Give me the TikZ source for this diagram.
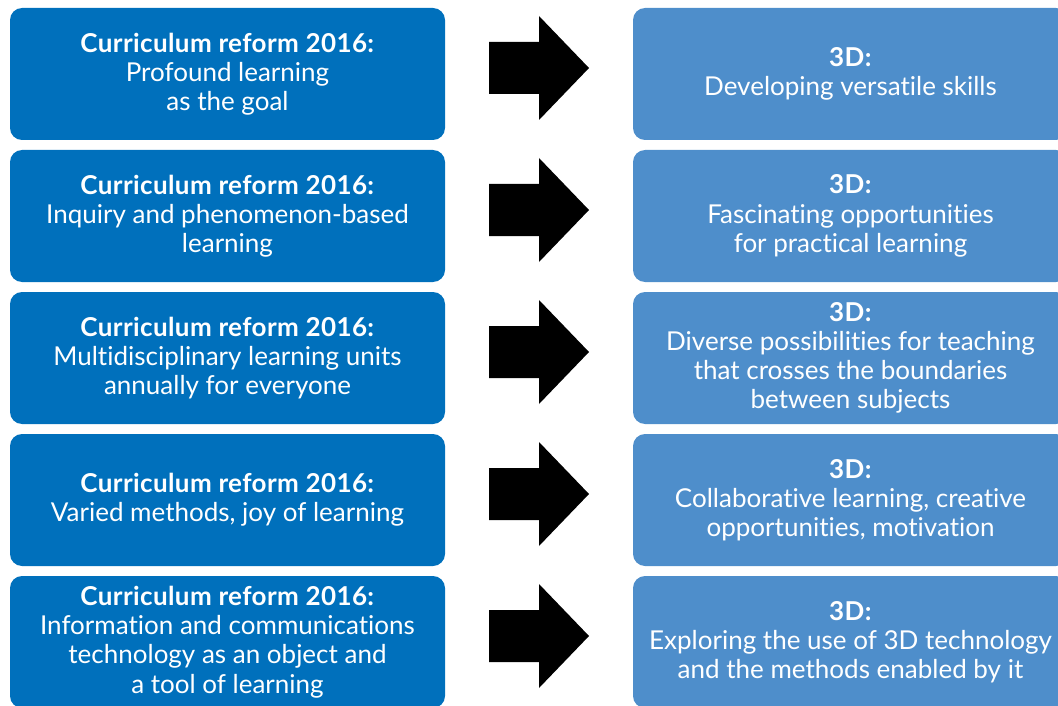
\documentclass[tikz,border=0pt]{standalone}
\usepackage{fontspec}
\setmainfont{Lato}[Ligatures={NoCommon,NoRare,NoContextual}]
\usetikzlibrary{calc}
\definecolor{leftblue}{RGB}{0,112,188}
\definecolor{rightblue}{RGB}{78,142,203}
\tikzset{
  box/.style={rounded corners=12pt, minimum width=435pt, minimum height=132pt,
    inner sep=0pt, text=white, align=center,
    font=\fontsize{26}{29.2}\selectfont},
  lbox/.style={box, fill=leftblue},
  rbox/.style={box, fill=rightblue},
  blockarrow/.style={fill=black}
}
\newcommand{\hd}[1]{\textbf{\addfontfeatures{LetterSpace=1.5}#1}}
\begin{document}
\begin{tikzpicture}[x=1pt,y=-1pt]
\useasboundingbox (0,0) rectangle (1058,706);
\clip (0,0) rectangle (1058,706);
\foreach \i/\yy in {1/74,2/216,3/358,4/500,5/642}{
  \coordinate (L\i) at (227.5,\yy);
  \coordinate (R\i) at (850.5,\yy);
}
\node[lbox] (l1) at (L1) {\hd{Curriculum reform 2016:}\\Profound learning\\as the goal};
\node[lbox] (l2) at (L2) {\hd{Curriculum reform 2016:}\\Inquiry and phenomenon-based\\learning};
\node[lbox] (l3) at (L3) {\hd{Curriculum reform 2016:}\\Multidisciplinary learning units\\annually for everyone};
\node[lbox] (l4) at (L4) {\hd{Curriculum reform 2016:}\\Varied methods, joy of learning};
\node[lbox] (l5) at (L5) {\hd{Curriculum reform 2016:}\\Information and communications\\technology as an object and\\a tool of learning};
\node[rbox] (r1) at (R1) {\hd{3D:}\\Developing versatile skills};
\node[rbox] (r2) at (R2) {\hd{3D:}\\Fascinating opportunities\\for practical learning};
\node[rbox] (r3) at (R3) {\hd{3D:}\\Diverse possibilities for teaching\\that crosses the boundaries\\between subjects};
\node[rbox] (r4) at (R4) {\hd{3D:}\\Collaborative learning, creative\\opportunities, motivation};
\node[rbox] (r5) at (R5) {\hd{3D:}\\Exploring the use of 3D technology\\and the methods enabled by it};
\foreach \i in {1,...,5}{
  \coordinate (m\i) at ($($(l\i.east)!0.5!(r\i.west)$)+(0,-6)$);
  \fill[blockarrow] ($(m\i)+(-50,-26)$) -- ($(m\i)+(0,-26)$) -- ($(m\i)+(0,-52)$)
    -- ($(m\i)+(50,0)$) -- ($(m\i)+(0,52)$) -- ($(m\i)+(0,26)$)
    -- ($(m\i)+(-50,26)$) -- cycle;
}
\end{tikzpicture}
\end{document}
